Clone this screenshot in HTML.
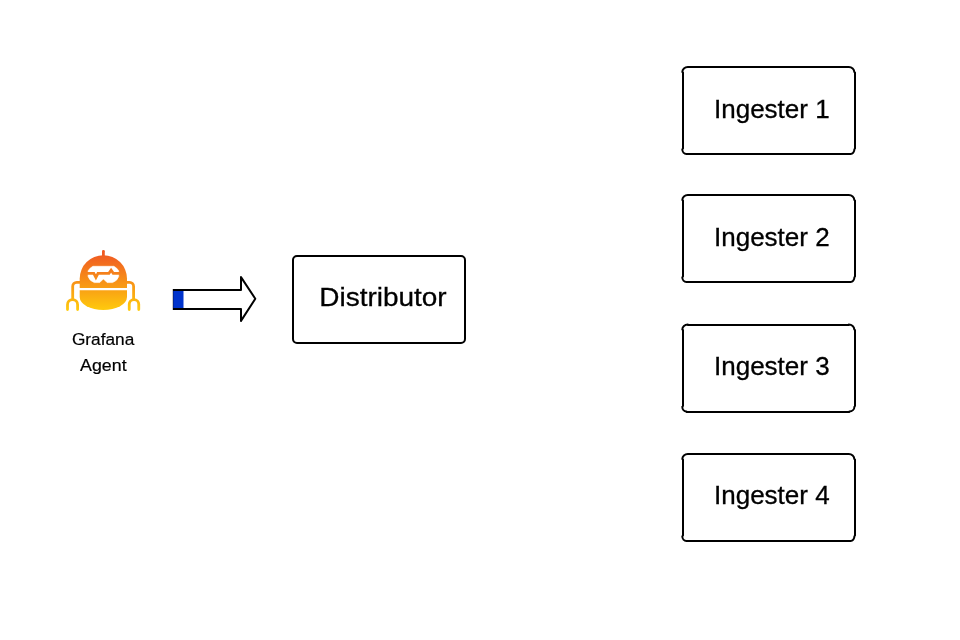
<!DOCTYPE html>
<html lang="en">
<head>
<meta charset="utf-8">
<title>Distributor and Ingesters</title>
<style>
  html, body { margin: 0; padding: 0; background: #ffffff; }
  body { width: 960px; height: 640px; position: relative; overflow: hidden;
         font-family: "Liberation Sans", sans-serif; color: #000; }
  .box { position: absolute; box-sizing: border-box; width: 174px; height: 89px;
         border: 2px solid #000; border-radius: 5px; background: #fff; }
  .box span { position: absolute; left: 0; top: 0; white-space: nowrap;
         font-size: 26px; line-height: 30px; -webkit-text-stroke: 0.3px #000; transform-origin: 0 0; will-change: transform; }
  .ing { border: 0; border-radius: 0; background: transparent; }
  .ing svg { left: 0; top: 0; overflow: visible; }
  #distributor { left: 292px; top: 255px; }
  #ing1 { left: 682px; top: 66px; }
  #ing2 { left: 682px; top: 194px; }
  #ing3 { left: 682px; top: 324px; }
  #ing4 { left: 682px; top: 453px; }
  #distributor span { left: 0; top: 0; transform: translate(25.3px, 25.3px) scaleX(1.075); }
  .ing span { left: 0; top: 0; transform: translate(32px, 27.75px) scaleX(1.0); }
  #ing3 span { transform: translate(32px, 27.2px) scaleX(1.0); }
  #ing4 span { transform: translate(32px, 27.4px) scaleX(1.0); }
  .label { position: absolute; white-space: nowrap; font-size: 16.8px; line-height: 20px; -webkit-text-stroke: 0.2px #000;
         transform-origin: 0 0; will-change: transform; }
  #lab1 { left: 0; top: 0; transform: translate(71.9px, 330.4px) scaleX(1.028); }
  #lab2 { left: 0; top: 0; transform: translate(80.1px, 356.4px) scaleX(1.06); }
  svg { position: absolute; left: 0; top: 0; }
</style>
</head>
<body>
<svg width="960" height="640" viewBox="0 0 960 640">
  <defs>
    <linearGradient id="g" gradientUnits="userSpaceOnUse" x1="0" y1="254" x2="0" y2="312">
      <stop offset="0" stop-color="#F05A22"/>
      <stop offset="1" stop-color="#FFCE0C"/>
    </linearGradient>
  </defs>
  <!-- Grafana Agent robot -->
  <g id="agent">
    <!-- antenna -->
    <rect x="102.0" y="250" width="2.8" height="8" rx="1.2" fill="url(#g)"/>
    <!-- head + body -->
    <path fill="url(#g)" d="M79.7 287.9 V278.6 A23.65 23.4 0 0 1 127 278.6 V287.9 Z"/>
    <path fill="url(#g)" d="M79.7 290.2 H127 V297 A23.65 13 0 0 1 79.7 297 Z"/>
    <!-- goggles -->
    <path fill="#fff" stroke="#fff" stroke-width="0.6" stroke-linejoin="round" d="M92.9 266.3 H113.9 Q117 267.8 118.7 270.8 V276.6 Q117.1 281.1 112.5 282.6 H107.1 L103.4 278.9 L99.7 282.6 H94.3 Q89.7 281.1 88.1 276.6 V270.8 Q89.8 267.8 92.9 266.3 Z"/>
    <path fill="none" stroke="url(#g)" stroke-width="2.8" stroke-linejoin="miter" d="M87 273.4 H93.8 L95.9 277.4 L98 273.4 H108.95 L111.1 270.3 L113.25 273.4 H120"/>
    <!-- arms -->
    <path fill="none" stroke="url(#g)" stroke-width="2.8" d="M80 282.4 H76.7 A4 4 0 0 0 72.7 286.4 V300"/>
    <path fill="none" stroke="url(#g)" stroke-width="2.8" d="M126.8 282.4 H129.6 A4 4 0 0 1 133.6 286.4 V300"/>
    <!-- claws -->
    <path fill="none" stroke="url(#g)" stroke-width="2.8" stroke-linecap="round" d="M67.5 309.5 V304.65 A5.05 5.05 0 0 1 77.6 304.65 V309.5"/>
    <path fill="none" stroke="url(#g)" stroke-width="2.8" stroke-linecap="round" d="M129.25 309.5 V304.35 A4.75 4.75 0 0 1 138.75 304.35 V309.5"/>
  </g>
  <!-- arrow -->
  <g id="arrow">
    <path fill="#fff" stroke="#000" stroke-width="2" stroke-linejoin="round" d="M174 290 H241 V277.1 L255.3 298.8 L241 320.9 V309 H174 Z"/>
    <rect x="172.8" y="289" width="2" height="21" fill="#000"/>
    <rect x="173.25" y="291" width="10.25" height="17" fill="#0033CC"/>
  </g>
</svg>
<div id="lab1" class="label">Grafana</div>
<div id="lab2" class="label">Agent</div>
<div id="distributor" class="box"><span>Distributor</span></div>
<div id="ing1" class="box ing"><svg width="174" height="89" viewBox="0 0 174 89"><path fill="none" stroke="#000" stroke-width="2" stroke-linecap="round" d="M5.8 1 H166.8 M173 6.5 V82.5 M168.6 88 H4.4 M1 82.5 V6.5 M0.3 6 A5.5 5 0 0 1 5.8 1 M166.8 1 A5.5 5 0 0 1 172.3 6 M172.4 83.2 A3.8 4.8 0 0 1 168.6 88 M4.4 88 A4.1 4.8 0 0 1 0.3 83.2"/></svg><span>Ingester 1</span></div>
<div id="ing2" class="box ing"><svg width="174" height="89" viewBox="0 0 174 89"><path fill="none" stroke="#000" stroke-width="2" stroke-linecap="round" d="M5.8 1 H166.8 M173 6.5 V82.5 M168.6 88 H4.4 M1 82.5 V6.5 M0.3 6 A5.5 5 0 0 1 5.8 1 M166.8 1 A5.5 5 0 0 1 172.3 6 M172.4 83.2 A3.8 4.8 0 0 1 168.6 88 M4.4 88 A4.1 4.8 0 0 1 0.3 83.2"/></svg><span>Ingester 2</span></div>
<div id="ing3" class="box ing"><svg width="174" height="89" viewBox="0 0 174 89"><path fill="none" stroke="#000" stroke-width="2" stroke-linecap="round" d="M5.8 1 H166.8 M173 6 V82 M167.4 88 H4.4 M1 82 V6 M0.3 5.5 A5.5 5 0 0 1 5.8 0.5 M166.8 0.5 A5.5 5 0 0 1 172.3 5.5 M172.4 82.7 A5 4.8 0 0 1 167.4 87.5 M4.4 87.5 A4.1 4.8 0 0 1 0.3 82.7"/></svg><span>Ingester 3</span></div>
<div id="ing4" class="box ing"><svg width="174" height="89" viewBox="0 0 174 89"><path fill="none" stroke="#000" stroke-width="2" stroke-linecap="round" d="M5.8 1 H166.8 M173 6.5 V82.5 M168.6 88 H4.4 M1 82.5 V6.5 M0.3 6 A5.5 5 0 0 1 5.8 1 M166.8 1 A5.5 5 0 0 1 172.3 6 M172.4 83.2 A3.8 4.8 0 0 1 168.6 88 M4.4 88 A4.1 4.8 0 0 1 0.3 83.2"/></svg><span>Ingester 4</span></div>
</body>
</html>
